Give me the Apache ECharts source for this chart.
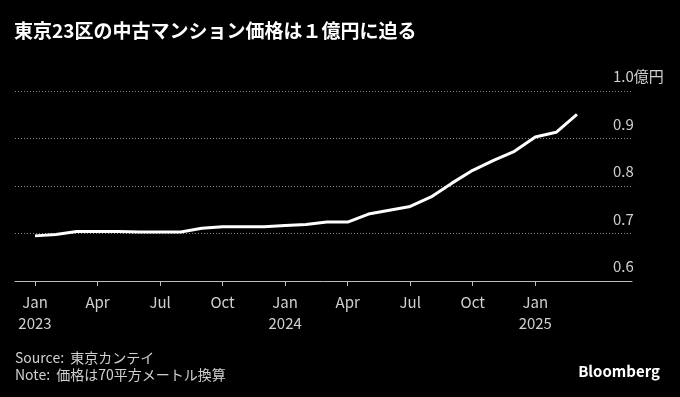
<!DOCTYPE html>
<html>
<head>
<meta charset="utf-8">
<script src="https://cdn.jsdelivr.net/npm/echarts@6/dist/echarts.min.js"></script>
<style>
  html, body { margin: 0; padding: 0; background: #000; }
  #chart { width: 680px; height: 397px; }
</style>
</head>
<body>
<div id="chart"></div>
<script>
// monthly, Jan 2023 .. Mar 2025
const months = [
  '2023-01', '2023-02', '2023-03', '2023-04', '2023-05', '2023-06',
  '2023-07', '2023-08', '2023-09', '2023-10', '2023-11', '2023-12',
  '2024-01', '2024-02', '2024-03', '2024-04', '2024-05', '2024-06',
  '2024-07', '2024-08', '2024-09', '2024-10', '2024-11', '2024-12',
  '2025-01', '2025-02', '2025-03'
];
// 億円
const prices = [
  0.695, 0.698, 0.704, 0.704, 0.704, 0.703,
  0.703, 0.703, 0.711, 0.714, 0.714, 0.714,
  0.717, 0.719, 0.724, 0.724, 0.741, 0.749,
  0.757, 0.777, 0.806, 0.833, 0.854, 0.873,
  0.903, 0.913, 0.951
];
const tickIndex = [0, 3, 6, 9, 12, 15, 18, 21, 24];
const tickLabels = ['Jan\n2023', 'Apr', 'Jul', 'Oct', 'Jan\n2024', 'Apr', 'Jul', 'Oct', 'Jan\n2025'];
const yTicks = [0.6, 0.7, 0.8, 0.9, 1.0];

const font = '"Noto Sans CJK JP", "Noto Sans", sans-serif';
const chart = echarts.init(document.getElementById('chart'));

chart.setOption({
  backgroundColor: '#000',
  animation: false,
  title: {
    text: '東京23区の中古マンション価格は１億円に迫る',
    left: 14,
    top: 21,
    padding: 0,
    textStyle: { color: '#fff', fontSize: 19, fontWeight: 'bold', fontFamily: font }
  },
  grid: { left: 15, right: 48, top: 91, bottom: 116 },
  xAxis: {
    type: 'value',
    min: -0.96,
    max: 28.64,
    splitLine: { show: false },
    axisLine: { lineStyle: { color: '#bdbdbd', width: 1 } },
    axisTick: {
      customValues: tickIndex,
      length: 5,
      lineStyle: { color: '#bdbdbd' }
    },
    axisLabel: {
      customValues: tickIndex,
      margin: 11,
      color: '#d0d0d0',
      fontSize: 15,
      lineHeight: 21,
      fontFamily: font,
      formatter: v => tickLabels[tickIndex.indexOf(Math.round(v))] || ''
    }
  },
  yAxis: {
    type: 'value',
    position: 'right',
    min: 0.6,
    max: 1.0,
    interval: 0.1,
    axisLine: { show: false },
    axisTick: { show: false },
    splitLine: { lineStyle: { color: '#8a8a8a', type: [1, 2], width: 1 } },
    axisLabel: {
      customValues: yTicks,
      inside: false,
      margin: -19,
      align: 'left',
      verticalAlign: 'bottom',
      padding: [0, 0, 7, 0],
      color: '#d0d0d0',
      fontSize: 15,
      fontFamily: font,
      formatter: v => Math.abs(v - 1) < 1e-6 ? '1.0億円' : v.toFixed(1)
    }
  },
  series: [{
    type: 'line',
    data: prices.map((p, i) => [i, p]),
    showSymbol: false,
    lineStyle: { color: '#fff', width: 3 },
    emphasis: { disabled: true }
  }],
  graphic: [
    {
      type: 'text', left: 15, top: 351,
      style: { text: 'Source:  東京カンテイ', fill: '#d0d0d0', font: '14px ' + font }
    },
    {
      type: 'text', left: 15, top: 368,
      style: { text: 'Note:  価格は70平方メートル換算', fill: '#d0d0d0', font: '14px ' + font }
    },
    {
      type: 'text', right: 20, top: 364,
      style: { text: 'Bloomberg', fill: '#fff', font: 'bold 15px ' + font }
    }
  ]
});
</script>
</body>
</html>
